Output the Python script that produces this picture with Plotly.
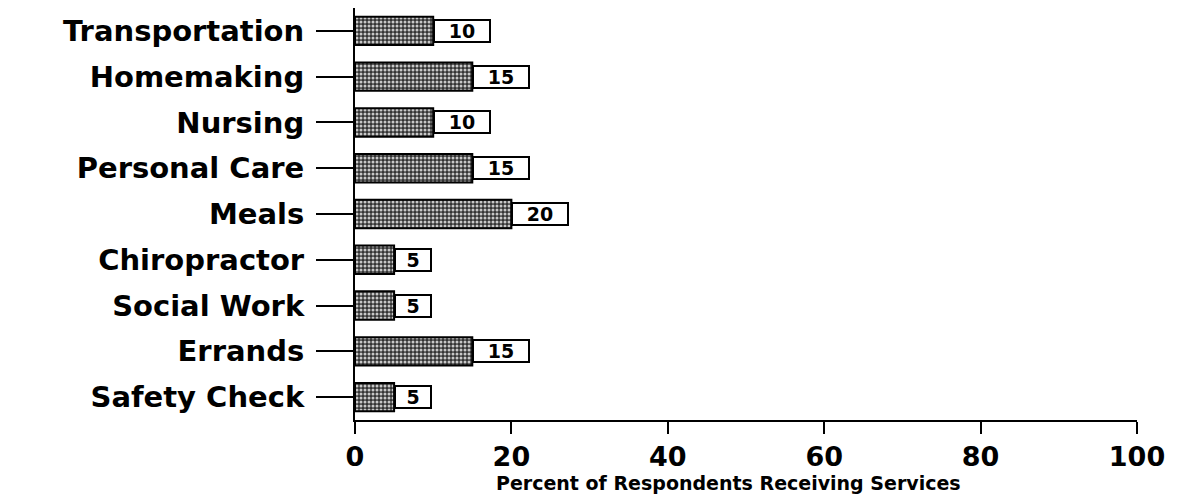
import plotly.graph_objects as go

services = ["Transportation", "Homemaking", "Nursing", "Personal Care", "Meals",
            "Chiropractor", "Social Work", "Errands", "Safety Check"]
percent = [10, 15, 10, 15, 20, 5, 5, 15, 5]
x_ticks = [0, 20, 40, 60, 80, 100]

FONT = "DejaVu Sans"

fig = go.Figure()
fig.add_trace(go.Bar(
    x=percent,
    y=services,
    orientation="h",
    width=0.62,
    marker=dict(
        color="#3c3c3c",
        line=dict(color="black", width=2),
        pattern=dict(shape=".", bgcolor="#333333", fgcolor="#c8c8c8",
                     size=4, solidity=0.45, fillmode="replace"),
    ),
    hoverinfo="skip",
))

# boxed value labels sitting at the end of each bar
for name, val in zip(services, percent):
    fig.add_annotation(
        x=val, y=name, xref="x", yref="y",
        text=f"<b>{val}</b>", showarrow=False,
        xanchor="left", yanchor="middle",
        width=52 if val >= 10 else 32, height=18,
        bgcolor="white", bordercolor="black", borderwidth=2, borderpad=1,
        font=dict(family=FONT, size=19, color="black"),
    )

# x-axis title placed below the tick labels
fig.add_annotation(
    x=0.477, y=-0.153, xref="paper", yref="paper",
    text="<b>Percent of Respondents Receiving Services</b>", showarrow=False,
    xanchor="center", yanchor="middle",
    font=dict(family=FONT, size=19, color="black"),
)

fig.update_layout(
    width=1179, height=495,
    margin=dict(l=355, r=42, t=8, b=75),
    paper_bgcolor="white", plot_bgcolor="white",
    showlegend=False,
    xaxis=dict(
        range=[0, 100], tickvals=x_ticks, ticktext=[f"<b>{t}</b>" for t in x_ticks],
        showgrid=False, zeroline=False, automargin=False,
        showline=True, linecolor="black", linewidth=2,
        ticks="outside", ticklen=12, tickwidth=2, tickcolor="black",
        tickfont=dict(family=FONT, size=27, color="black"),
        ticklabelstandoff=0,
    ),
    yaxis=dict(
        type="category", categoryorder="array", categoryarray=services,
        range=[8.5, -0.5],
        tickvals=services, ticktext=[f"<b>{s}</b>" for s in services],
        showgrid=False, zeroline=False, automargin=False,
        showline=True, linecolor="black", linewidth=2,
        ticks="outside", ticklen=37, tickwidth=2, tickcolor="black",
        tickfont=dict(family=FONT, size=29, color="black"),
        ticklabelstandoff=6,
    ),
)

fig.write_html("out.html")
